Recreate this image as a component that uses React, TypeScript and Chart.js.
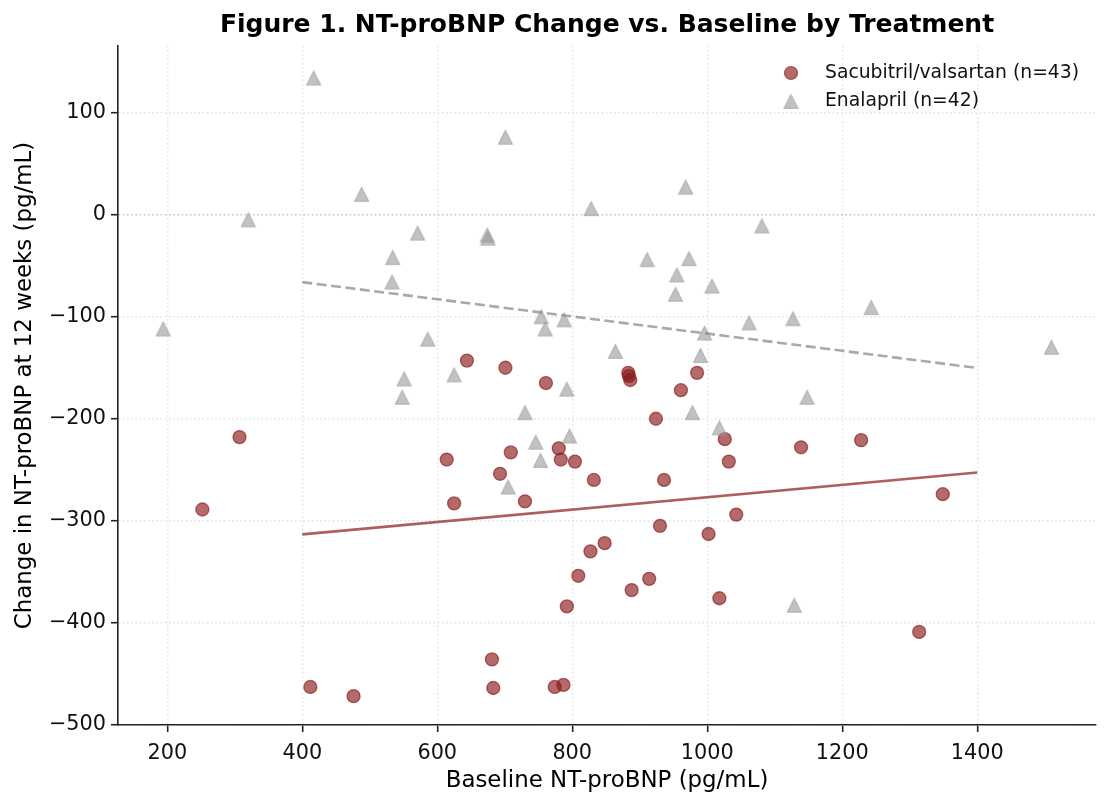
import React, { useEffect, useRef } from 'react';
import { Chart, registerables } from 'chart.js';

Chart.register(...registerables);

const FONT = '"DejaVu Sans", "Liberation Sans", sans-serif';

// Baseline NT-proBNP (pg/mL) and change at 12 weeks (pg/mL), one entry per patient
const sacubitrilBaseline = [
  307, 252, 614, 644, 701, 761, 883, 886, 985, 961, 924, 709, 780, 783, 804,
  693, 1026, 1032, 832, 936, 625, 730, 1043, 930, 1002, 1139, 1228, 1349, 848,
  827, 809, 914, 888, 1018, 792, 681, 683, 774, 787, 412, 476, 1314, 884,
];
const sacubitrilChange = [
  -218, -289, -240, -143, -150, -165, -155, -162, -155, -172, -200, -233, -229,
  -240, -242, -254, -220, -242, -260, -260, -283, -281, -294, -305, -313, -228,
  -221, -274, -322, -330, -354, -357, -368, -376, -384, -436, -464, -463, -461,
  -463, -472, -409, -158,
];

const enalaprilBaseline = [
  194, 320, 417, 488, 534, 533, 571, 551, 548, 586, 701, 968, 828, 674, 675,
  1081, 911, 973, 955, 1007, 953, 754, 788, 760, 1062, 996, 864, 990, 625, 792,
  730, 978, 1018, 796, 746, 753, 705, 1127, 1243, 1510, 1148, 1129,
];
const enalaprilChange = [
  -112, -5, 134, 20, -42, -66, -18, -161, -179, -122, 76, 27, 6, -20, -23, -11,
  -44, -43, -59, -70, -78, -100, -103, -112, -106, -116, -134, -138, -157, -171,
  -194, -194, -209, -217, -223, -241, -267, -102, -91, -130, -179, -383,
];

// Least-squares fit lines, evaluated at the ends of the fitted range
const trendBaseline = [400, 1400];
const sacubitrilTrend = [-313.4, -252.7];
const enalaprilTrend = [-66.0, -150.2];

const xTicks = [200, 400, 600, 800, 1000, 1200, 1400];
const yTicks = [-500, -400, -300, -200, -100, 0, 100];

const chartTitle = 'Figure 1. NT-proBNP Change vs. Baseline by Treatment';
const seriesLabels = ['Sacubitril/valsartan (n=43)', 'Enalapril (n=42)'];

const RED = 'rgba(139, 26, 26, 0.65)';
const RED_LINE = 'rgba(139, 26, 26, 0.7)';
const GREY = 'rgba(153, 153, 153, 0.6)';
const GREY_LINE = 'rgba(136, 136, 136, 0.72)';

// Upward triangle whose bounding box is centred on the data point
function makeTriangle(): HTMLCanvasElement {
  const c = document.createElement('canvas');
  c.width = 17;
  c.height = 17;
  const g = c.getContext('2d')!;
  g.beginPath();
  g.moveTo(8.5, 1.5);
  g.lineTo(1.5, 15.3);
  g.lineTo(15.5, 15.3);
  g.closePath();
  g.fillStyle = GREY;
  g.fill();
  g.lineWidth = 1.2;
  g.strokeStyle = GREY;
  g.stroke();
  return c;
}

const pairs = (xs: number[], ys: number[]) => xs.map((x, i) => ({ x, y: ys[i] }));
const fmt = (v: number) => String(v).replace('-', '\u2212');

export default function App() {
  const ref = useRef<HTMLCanvasElement>(null);

  useEffect(() => {
    const canvas = ref.current;
    if (!canvas) return;
    const triangle = makeTriangle();

    // Title centred over the plotting area, legend in its upper-right corner
    const decorations = {
      id: 'decorations',
      afterDraw(chart: any) {
        const { ctx, chartArea } = chart;
        ctx.save();
        ctx.fillStyle = '#000';
        ctx.font = `bold 25px ${FONT}`;
        ctx.textAlign = 'center';
        ctx.textBaseline = 'middle';
        ctx.fillText(chartTitle, (chartArea.left + chartArea.right) / 2, chartArea.top - 20.5);

        const mx = chartArea.right - 305;
        const tx = chartArea.right - 271;
        const y1 = chartArea.top + 27;
        const y2 = chartArea.top + 55.5;
        ctx.beginPath();
        ctx.arc(mx, y1, 6.5, 0, Math.PI * 2);
        ctx.fillStyle = RED;
        ctx.fill();
        ctx.lineWidth = 1.2;
        ctx.strokeStyle = RED;
        ctx.stroke();
        ctx.drawImage(triangle, mx - 8.5, y2 - 8.5);
        ctx.fillStyle = '#111';
        ctx.font = `18.75px ${FONT}`;
        ctx.textBaseline = 'middle';
        ctx.textAlign = 'left';
        ctx.fillText(seriesLabels[0], tx, y1);
        ctx.fillText(seriesLabels[1], tx, y2);
        ctx.restore();
      },
    };

    const gridColor = (c: any) =>
      c.tick && c.tick.value === 0 ? 'rgba(160,160,160,0.6)' : 'rgba(200,200,200,0.5)';

    const chart = new Chart(canvas, {
      type: 'scatter',
      data: {
        datasets: [
          {
            type: 'line',
            label: 'Enalapril fit',
            data: pairs(trendBaseline, enalaprilTrend),
            borderColor: GREY_LINE,
            borderWidth: 2.6,
            borderDash: [10, 4.5],
            pointRadius: 0,
            fill: false,
            order: 0,
          },
          {
            type: 'line',
            label: 'Sacubitril/valsartan fit',
            data: pairs(trendBaseline, sacubitrilTrend),
            borderColor: RED_LINE,
            borderWidth: 2.6,
            pointRadius: 0,
            fill: false,
            order: 1,
          },
          {
            label: seriesLabels[1],
            data: pairs(enalaprilBaseline, enalaprilChange),
            pointStyle: triangle,
            pointRadius: 8,
            order: 2,
          },
          {
            label: seriesLabels[0],
            data: pairs(sacubitrilBaseline, sacubitrilChange),
            pointStyle: 'circle',
            pointRadius: 6.5,
            borderWidth: 1.3,
            backgroundColor: RED,
            borderColor: RED,
            order: 3,
          },
        ] as any,
      },
      options: {
        responsive: false,
        animation: false,
        layout: { padding: { left: 0, right: 14, top: 46, bottom: 0 } },
        plugins: {
          legend: { display: false },
          tooltip: { enabled: false },
          title: { display: false },
        },
        scales: {
          x: {
            type: 'linear',
            min: 127,
            max: 1576,
            afterBuildTicks: (s: any) => {
              s.ticks = xTicks.map((v) => ({ value: v }));
            },
            afterFit: (s: any) => {
              s.height = 82;
            },
            ticks: {
              font: { family: FONT, size: 20.8 },
              color: '#111',
              padding: 9,
              callback: (v: any) => fmt(v),
            },
            grid: {
              color: gridColor,
              lineWidth: 1.4,
              tickLength: 7,
              tickColor: '#222',
              tickWidth: 1.6,
            },
            border: {
              display: true,
              color: '#222',
              width: 1.6,
              dash: (c: any) => (c.type === 'tick' ? [1.6, 2.6] : []),
            },
            title: {
              display: true,
              text: 'Baseline NT-proBNP (pg/mL)',
              color: '#000',
              font: { family: FONT, size: 22.9, lineHeight: 1.2 },
              padding: { top: 0, bottom: 12 },
            },
          },
          y: {
            type: 'linear',
            min: -500.3,
            max: 165.5,
            afterBuildTicks: (s: any) => {
              s.ticks = yTicks.map((v) => ({ value: v }));
            },
            afterFit: (s: any) => {
              s.width = 118;
            },
            ticks: {
              font: { family: FONT, size: 20.8 },
              color: '#111',
              padding: 5,
              callback: (v: any) => fmt(v),
            },
            grid: {
              color: gridColor,
              lineWidth: 1.4,
              tickLength: 7,
              tickColor: '#222',
              tickWidth: 1.6,
            },
            border: {
              display: true,
              color: '#222',
              width: 1.6,
              dash: (c: any) => (c.type === 'tick' ? [1.6, 2.6] : []),
            },
            title: {
              display: true,
              text: 'Change in NT-proBNP at 12 weeks (pg/mL)',
              color: '#000',
              font: { family: FONT, size: 22.9, lineHeight: 1.2 },
              padding: { top: 11.3, bottom: 0 },
            },
          },
        },
      } as any,
      plugins: [decorations],
    });

    return () => chart.destroy();
  }, []);

  return (
    <div style={{ position: 'absolute', left: 0, top: 0, width: 1110, height: 807, background: '#fff' }}>
      <canvas ref={ref} width={1110} height={807} style={{ display: 'block', width: 1110, height: 807 }} />
    </div>
  );
}
